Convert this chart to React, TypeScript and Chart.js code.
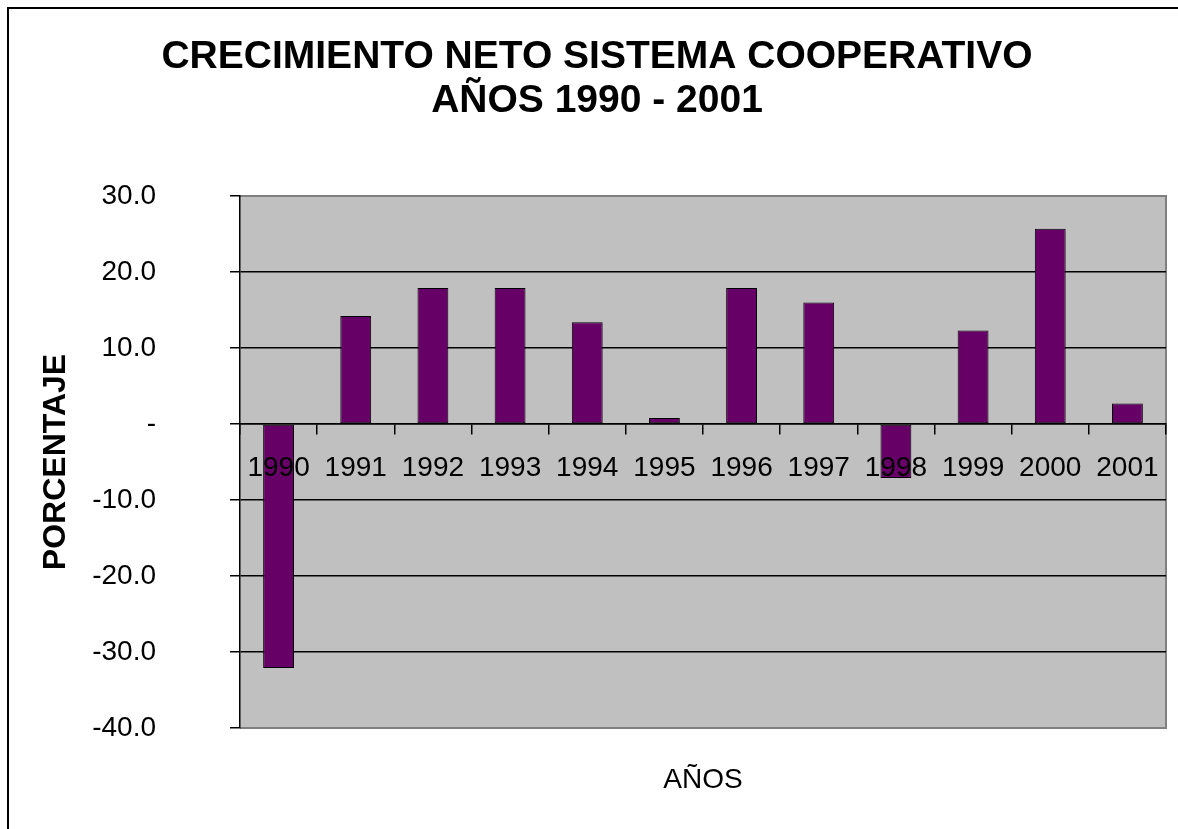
import React, { useEffect, useRef } from 'react';
import { Chart, registerables } from 'chart.js';

Chart.register(...registerables);

const TITLE_LINES = ['CRECIMIENTO NETO SISTEMA COOPERATIVO', 'AÑOS 1990 - 2001'];
const X_TITLE = 'AÑOS';
const Y_TITLE = 'PORCENTAJE';
const YEARS = ['1990', '1991', '1992', '1993', '1994', '1995', '1996', '1997', '1998', '1999', '2000', '2001'];
const GROWTH = [-32.1, 14.2, 17.9, 17.9, 13.4, 0.8, 17.9, 16.0, -7.1, 12.3, 25.7, 2.7];
const Y_MIN = -40;
const Y_MAX = 30;
const Y_STEP = 10;

const FONT = '"Liberation Sans", Arial, Helvetica, sans-serif';
const W = 1178;
const H = 829;

export default function App() {
  const ref = useRef<HTMLCanvasElement>(null);

  useEffect(() => {
    const canvas = ref.current;
    if (!canvas) return;

    const decor = {
      id: 'decor',
      beforeDraw(chart: any) {
        const { ctx, chartArea: a } = chart;
        ctx.save();
        ctx.fillStyle = '#ffffff';
        ctx.fillRect(0, 0, W, H);
        // outer frame (left and top edges)
        ctx.fillStyle = '#000000';
        ctx.fillRect(7, 7, W - 7, 2);
        ctx.fillRect(7, 7, 2, H - 7);
        // plot area
        ctx.fillStyle = '#C0C0C0';
        ctx.fillRect(a.left, a.top, a.right - a.left, a.bottom - a.top);
        ctx.strokeStyle = '#808080';
        ctx.lineWidth = 2;
        ctx.beginPath();
        ctx.moveTo(a.left, a.top);
        ctx.lineTo(a.right, a.top);
        ctx.lineTo(a.right, a.bottom);
        ctx.lineTo(a.left, a.bottom);
        ctx.stroke();
        ctx.restore();
      },
      afterDraw(chart: any) {
        const { ctx } = chart;
        ctx.save();
        ctx.fillStyle = '#000000';
        ctx.font = `bold 39px ${FONT}`;
        ctx.textAlign = 'center';
        ctx.textBaseline = 'middle';
        ctx.fillText(TITLE_LINES[0], 597, 57);
        ctx.fillText(TITLE_LINES[1], 597, 101);
        ctx.restore();
      },
    };

    const chart = new Chart(canvas, {
      type: 'bar',
      data: {
        labels: YEARS,
        datasets: [
          {
            data: GROWTH,
            backgroundColor: '#660066',
            borderColor: '#000000',
            borderWidth: 1,
            borderSkipped: false,
            barPercentage: 0.4,
            categoryPercentage: 1,
            xAxisID: 'x',
            yAxisID: 'y',
          },
        ],
      },
      options: {
        animation: false,
        responsive: false,
        devicePixelRatio: 1,
        events: [],
        layout: { padding: { top: 196, right: 12, bottom: 0, left: 0 } },
        plugins: {
          legend: { display: false },
          tooltip: { enabled: false },
          title: { display: false },
        },
        scales: {
          x: {
            type: 'category',
            position: 'bottom',
            offset: true,
            grid: { display: false },
            border: { display: false },
            ticks: { display: false },
            title: {
              display: true,
              text: X_TITLE,
              color: '#000000',
              font: { family: FONT, size: 28, weight: 'normal' },
              padding: { top: 0, bottom: 32 },
            },
            afterFit(scale: any) {
              scale.height = 101;
            },
          },
          xl: {
            type: 'category',
            axis: 'x',
            labels: YEARS,
            position: { y: 0 },
            offset: true,
            grid: {
              display: true,
              drawOnChartArea: false,
              drawTicks: true,
              tickLength: 10,
              offset: true,
              color: '#000000',
              tickColor: '#000000',
              lineWidth: 1.5,
              z: 1,
            },
            border: { display: true, color: '#000000', width: 1.5, z: 1 },
            ticks: {
              color: '#000000',
              font: { family: FONT, size: 28 },
              padding: 17,
              maxRotation: 0,
              autoSkip: false,
              z: 1,
            },
          },
          y: {
            type: 'linear',
            position: 'left',
            min: Y_MIN,
            max: Y_MAX,
            ticks: {
              stepSize: Y_STEP,
              color: '#000000',
              font: { family: FONT, size: 28 },
              padding: 74,
              callback: (v: any) => (Number(v) === 0 ? '-' : Number(v).toFixed(1)),
            },
            grid: {
              color: (c: any) =>
                c.tick && (c.tick.value === Y_MAX || c.tick.value === Y_MIN) ? 'rgba(0,0,0,0)' : '#000000',
              tickColor: '#000000',
              tickLength: 10,
              lineWidth: 1.5,
            },
            border: { display: true, color: '#000000', width: 1.5 },
            title: {
              display: true,
              text: Y_TITLE,
              color: '#000000',
              font: { family: FONT, size: 32, weight: 'bold' },
              padding: { top: 37, bottom: 0 },
            },
            afterFit(scale: any) {
              scale.width = 240;
            },
          },
        },
      },
      plugins: [decor],
    });

    return () => {
      chart.destroy();
    };
  }, []);

  return (
    <canvas
      ref={ref}
      width={W}
      height={H}
      style={{ position: 'fixed', left: 0, top: 0, width: W, height: H, display: 'block' }}
    />
  );
}
